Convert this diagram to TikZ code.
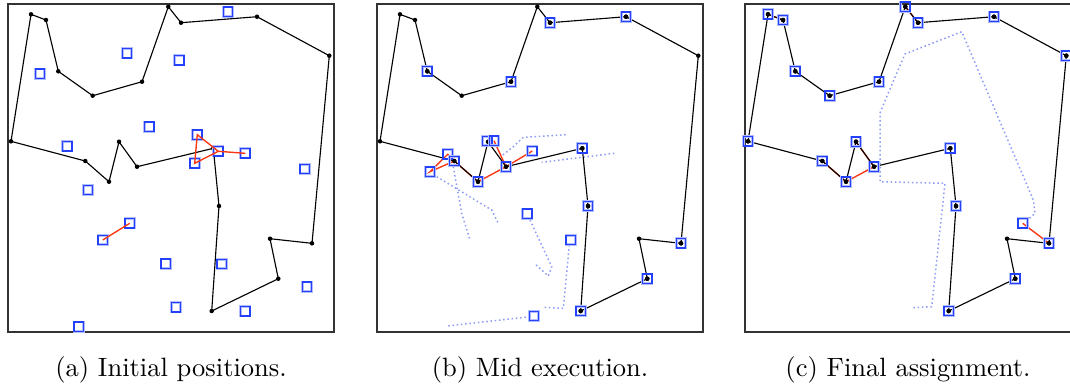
\documentclass[tikz,border=0pt]{standalone}
\usepackage{tikz}
\usetikzlibrary{calc}
\definecolor{robotblue}{RGB}{35,65,250}
\definecolor{linkred}{RGB}{250,55,20}
\definecolor{trailblue}{RGB}{140,155,245}

\tikzset{
  goal/.style={circle, fill=black, inner sep=0pt, minimum size=1.8pt},
  robot/.style={preaction={draw=robotblue!35, line width=1.1pt},
    draw=robotblue, line width=0.5pt, inner sep=0pt, minimum size=3.7pt},
  route/.style={black, line width=0.45pt},
  link/.style={linkred, line width=0.55pt},
  trail/.style={trailblue, line width=0.6pt, dash pattern=on 0.6pt off 1.1pt},
  panel/.style={black!80, line width=0.55pt},
  caption/.style={font=\fontsize{10.6}{13}\selectfont, anchor=base}
}

% goal positions (shared by all panels)
\newcommand{\goals}[1]{%
  \foreach \gx/\gy [count=\k] in {11/141.3, 31/14.3, 46/20, 58.3/71.3, 92.7/95.7,
      142/81.7, 168.3/6.7, 181/22.7, 257/16.7, 329.3/55.7, 312/243.3, 270/238.7,
      278.3/278.7, 211.7/311, 219/206, 213.3/148.3, 137/166.7, 119/141.7,
      109/181.7, 85.3/161}
    \node[goal] (#1g\k) at (\gx,\gy) {};
}
\newcommand{\route}[1]{%
  \draw[route] (#1g1.center) \foreach \k in {2,...,20} {-- (#1g\k.center)} -- cycle;
}

\begin{document}
\begin{tikzpicture}[x=0.4pt, y=-0.4pt]
  \useasboundingbox (0,0) rectangle (1070,389);

  % (a) initial positions
  \begin{scope}
    \draw[panel] (8,4) rectangle (334,332);
    \goals{a}
    \route{a}
    \foreach \rx/\ry [count=\k] in {228/11.7, 127/53.3, 179.3/60.3, 40/73.7,
        149.3/126.7, 67.3/146.3, 197.3/134.7, 218.3/151.3, 245.3/153.3,
        194.7/163.3, 304.7/169, 88/190, 129.7/223.3, 102.7/240, 165.7/263.7,
        221.7/264, 307/286.7, 176/307.3, 245.3/311.3, 78.7/326.7}
      \node[robot] (ar\k) at (\rx,\ry) {};
    \draw[link] (ar7.center) -- (ar10.center) -- (ar8.center) -- cycle;
    \draw[link] (ar8.center) -- (ar9.center);
    \draw[link] (ar14.center) -- (ar13.center);
    \node[caption] (capa) at (171,376) {(a) Initial positions.};
  \end{scope}

  % (b) mid execution
  \begin{scope}[shift={(369,0)}]
    \draw[panel] (8,4) rectangle (334,332);
    % trails
    \draw[trail] (196.7,134.7) -- (154.3,137.3) -- (144.3,146.7) -- (133.7,155);
    \draw[trail] (245.3,153.3) -- (172.7,162.3);
    \draw[trail] (67.7,176.7) -- (122.7,210) -- (129.3,223.3);
    \draw[trail] (84.3,166.7) -- (92.7,213.3) -- (101,240);
    \draw[trail] (161,220) -- (182.7,266.7) -- (179.3,276) -- (165.3,263.3);
    \draw[trail] (200.3,245) -- (194.3,308.3) -- (175,307.3);
    \draw[trail] (161,316.7) -- (77.7,326);
    \goals{b}
    \foreach \rx/\ry [count=\k] in {181/22.7, 257/16.7, 58.3/71.3, 142/81.7,
        118.3/141, 125/140.7, 78.7/154.3, 85.3/161, 61/171.7, 109/181.7,
        137/166.7, 163.3/151, 213.3/148.3, 158.3/213.7, 201.7/240, 219/206,
        312/243.3, 278.3/278.7, 211.7/311, 165/316}
      \coordinate (br\k) at (\rx,\ry);
    \draw[link] (br9) -- (br7) -- (br8) -- cycle;
    \draw[link] (br8) -- (br10) -- (br11) -- (br12);
    \draw[link] (br6) -- (br11);
    \route{b}
    \foreach \k in {1,...,20}
      \node[robot] at (br\k) {};
    \foreach \k in {3,4,8,10,11,13,16,17,18,19,1,2}
      \fill (br\k) circle (0.9pt);
    \node[caption] (capb) at (171,376) {(b) Mid execution.};
  \end{scope}

  % (c) final assignment
  \begin{scope}[shift={(737,0)}]
    \draw[panel] (8,4) rectangle (334,332);
    \draw[trail] (176.3,307.7) -- (194.7,306.7) -- (208,183.3) -- (143,181.7)
      -- (143,113) -- (149.7,96.7) -- (164.7,61.7) -- (168,54) -- (224.7,31.7)
      -- (296.3,200) -- (298,213.3) -- (289.7,220.7);
    \goals{c}
    \coordinate (cr12) at (285.7,223.3);
    \draw[link] (cg2.center) -- (cg3.center);
    \draw[link] (cg7.center) -- (cg8.center);
    \draw[link] (cg20.center) -- (cg19.center) -- (cg17.center) -- (cg18.center);
    \draw[link] (cr12) -- (cg11.center);
    \route{c}
    \foreach \k in {1,...,11,13,14,...,20} {
      \node[robot] (cr\k) at (cg\k) {};
      \fill (cg\k) circle (0.9pt);
    }
    \node[robot] at (cr12) {};
    \node[caption] (capc) at (171,376) {(c) Final assignment.};
  \end{scope}
\end{tikzpicture}
\end{document}
